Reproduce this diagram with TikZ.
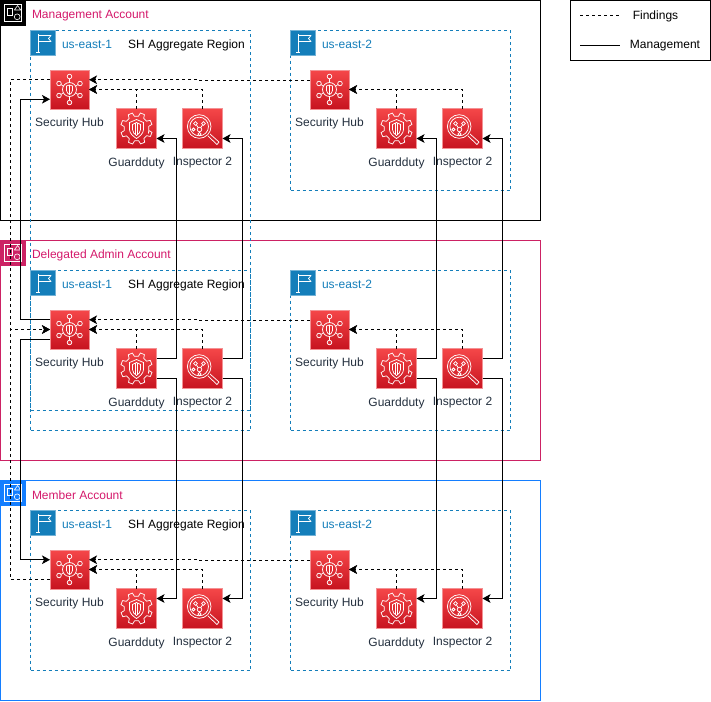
\documentclass[tikz,border=0pt]{standalone}
\usepackage{fontspec}
\setmainfont{Liberation Sans}
\usetikzlibrary{calc,arrows.meta}
\definecolor{mgmtc}{HTML}{000000}
\definecolor{delc}{HTML}{CC2264}
\definecolor{memc}{HTML}{147EFF}
\definecolor{labc}{HTML}{D4196B}
\definecolor{regc}{HTML}{147EBA}
\definecolor{txtc}{HTML}{232F3E}
\definecolor{midred}{HTML}{DE2D36}
\tikzset{
  x=0.75pt,y=-0.75pt,
  every node/.style={font=\fontsize{9}{11}\selectfont,inner sep=0pt,outer sep=0pt},
  account/.style={draw=#1,line width=0.75pt,fill=none},
  accicon/.style={fill=#1,draw=#1,minimum size=18.75pt,anchor=north west},
  acclabel/.style={text=labc,anchor=west},
  region/.style={draw=regc,line width=0.75pt,dash pattern=on 2.25pt off 2.25pt},
  regicon/.style={fill=regc,draw=regc!60!white,line width=.5pt,minimum size=18.75pt,anchor=north west},
  reglabel/.style={text=regc,anchor=west},
  plain/.style={text=black},
  redbox/.style={shade,top color={rgb,255:red,245;green,71;blue,73},bottom color={rgb,255:red,199;green,19;blue,31},draw={rgb,255:red,243;green,145;blue,148},line width=.75pt,minimum size=#1},
  svc/.style={text=txtc},
  glyph/.style={draw=white,line width=0.55pt,fill=none},
  findings/.style={draw=black,line width=0.75pt,dash pattern=on 2.25pt off 2.25pt,-{Stealth[length=6pt,width=6.5pt,inset=1.5pt]}},
  manage/.style={draw=black,line width=0.75pt,-{Stealth[length=6pt,width=6.5pt,inset=1.5pt]}},
  manageplain/.style={draw=black,line width=0.75pt},
  findingsplain/.style={draw=black,line width=0.75pt,dash pattern=on 2.25pt off 2.25pt},
  pics/shglyph/.style={code={
    \draw[glyph] (0,0) circle (7);
    \draw[glyph] (-3,-3.5) -- (0,-4.5) -- (3,-3.5) -- (3,1) .. controls (3,3) and (1,4.5) .. (0,5) .. controls (-1,4.5) and (-3,3) .. (-3,1) -- cycle;
    \draw[glyph] (0,-4.5) -- (0,5);
    \foreach \a/\b/\c/\d in {0/-13/0/-7,0/13/0/7,-10.5/-6/-6/-3.5,10.5/-6/6/-3.5,-10.5/6/-6/3.5,10.5/6/6/3.5}{
      \draw[glyph] (\c,\d) -- (\a,\b);
      \draw[glyph,fill=midred] (\a,\b) circle (2.3);
    }
  }},
  pics/gdglyph/.style={code={
    \draw[glyph,line join=round] (22:13) foreach \t in {0,45,...,315}{ -- (\t+22-13:12.5) -- (\t+22-8:16) -- (\t+22+8:16) -- (\t+22+13:12.5)} -- cycle;
    \draw[glyph] (-7,-6) -- (0,-9) -- (7,-6) -- (7,1) .. controls (7,5) and (3,8) .. (0,10) .. controls (-3,8) and (-7,5) .. (-7,1) -- cycle;
    \draw[glyph] (-4,-4) -- (0,-6) -- (4,-4) -- (4,1) .. controls (4,4) and (2,5.5) .. (0,7) .. controls (-2,5.5) and (-4,4) .. (-4,1) -- cycle;
    \draw[glyph] (-1,-5.5) -- (-1,6) (1,-5.5) -- (1,6);
  }},
  pics/inglyph/.style={code={
    \draw[glyph] (-3.3,-2) circle (11.8);
    \draw[glyph] (-3.3,-2) circle (9.3);
    \draw[glyph,line join=round] (5.5,7.5) -- (14.5,16) -- (16.5,13.5) -- (7.5,5.5);
    \draw[glyph] (-7,-5) -- (-3,1) -- (1,-5) (-3,1) -- (-3,5);
    \draw[glyph,fill=midred] (-7,-5) circle (1.9) (1,-5) circle (1.9) (-3,1) circle (2.3) (-3,5.5) circle (1.6) (-9,1) circle (1.5);
  }},
  pics/flagglyph/.style={code={
    \draw[glyph] (-5,-9) -- (-5,9);
    \draw[glyph,line join=round] (-5,-7.5) -- (8,-7.5) -- (5.5,-4.5) -- (8,-1.5) -- (-5,-1.5);
    \draw[glyph] (-7,9) -- (-3,9);
  }},
  pics/groupglyph/.style={code={
    \draw[glyph,line width=.45pt] (-8.3,-8.3) rectangle (8.3,8.3);
    \draw[glyph,line width=.45pt] (-6,-4.5) rectangle (-0.5,2.5);
    \draw[glyph,line width=.45pt,line join=round] (4.6,-7.5) -- (7.8,-3) -- (1.4,-3) -- cycle;
    \draw[glyph,line width=.45pt] (4.2,3.8) circle (2.9);
  }},
}
\begin{document}
\begin{tikzpicture}
\useasboundingbox (0,0) rectangle (711,701);
% legend
\node[draw=black,line width=.75pt,minimum width=105pt,minimum height=45pt,anchor=north west] (legend) at (570.5,0.5) {};
\node[plain] (lgf) at (655.5,16) {Findings};
\node[plain] (lgm) at (665,46) {Management};
\coordinate (lfa) at (580,15); \coordinate (lfb) at (620,15);
\coordinate (lma) at (580,45); \coordinate (lmb) at (620,45);
\draw[findingsplain] (lfa) -- (lfb);
\draw[manageplain] (lma) -- (lmb);
% accounts
\foreach \r/\o/\col/\title in {m/0/mgmtc/Management Account,d/240/delc/Delegated Admin Account,b/480/memc/Member Account}{
  \node[account=\col,minimum width=405pt,minimum height=165pt,anchor=north west] (acc\r) at (0.5,0.5+\o) {};
  \node[accicon=\col] (aic\r) at (0.5,0.5+\o) {};
  \pic at (aic\r) {groupglyph};
  \node[acclabel] (alb\r) at (32,15.5+\o) {\title};
}
% regions
\node[region,minimum width=165pt,minimum height=285pt,anchor=north west] (regm1) at (30.5,30.5) {};
\node[region,minimum width=165pt,minimum height=120pt,anchor=north west] (regd1) at (30.5,270.5) {};
\node[region,minimum width=165pt,minimum height=120pt,anchor=north west] (regb1) at (30.5,510.5) {};
\node[region,minimum width=165pt,minimum height=120pt,anchor=north west] (regm2) at (290.5,30.5) {};
\node[region,minimum width=165pt,minimum height=120pt,anchor=north west] (regd2) at (290.5,270.5) {};
\node[region,minimum width=165pt,minimum height=120pt,anchor=north west] (regb2) at (290.5,510.5) {};
\foreach \r/\o in {m/0,d/240,b/480}{
  \node[plain] (agg\r) at (186.5,45.5+\o) {SH Aggregate Region};
  \foreach \c/\cx in {1/0,2/260}{
    \node[regicon] (ric\r\c) at (30.5+\cx,30.5+\o) {};
    \pic at (ric\r\c) {flagglyph};
    \node[reglabel] (rlb\r\c) at (62+\cx,44.5+\o) {us-east-\ifnum\c=1 1\else 2\fi};
    % services
    \node[redbox=29.25pt] (sh\r\c) at (69.5+\cx,89.5+\o) {};
    \pic at (sh\r\c) {shglyph};
    \node[svc] (shl\r\c) at (69.5+\cx,123+\o) {Security Hub};
    \node[redbox=30pt] (gd\r\c) at (136.5+\cx,128.5+\o) {};
    \pic at (gd\r\c) {gdglyph};
    \node[svc] (gdl\r\c) at (136.5+\cx,163+\o) {Guardduty};
    \node[redbox=30pt] (in\r\c) at (202.5+\cx,128.5+\o) {};
    \pic at (in\r\c) {inglyph};
    \node[svc] (inl\r\c) at (202.5+\cx,163+\o) {Inspector 2};
    % connection points
    \coordinate (sh\r\c lu) at ($(sh\r\c.north west)!.25!(sh\r\c.south west)$);
    \coordinate (sh\r\c ld) at ($(sh\r\c.north west)!.75!(sh\r\c.south west)$);
    \coordinate (sh\r\c ru) at ($(sh\r\c.north east)!.25!(sh\r\c.south east)$);
    \coordinate (gd\r\c ru) at ($(gd\r\c.north east)!.25!(gd\r\c.south east)$);
    \coordinate (gd\r\c rd) at ($(gd\r\c.north east)!.75!(gd\r\c.south east)$);
    \coordinate (in\r\c ru) at ($(in\r\c.north east)!.25!(in\r\c.south east)$);
    \coordinate (in\r\c rd) at ($(in\r\c.north east)!.75!(in\r\c.south east)$);
  }
}
% findings inside regions
\foreach \r in {m,d,b}{
  \foreach \c in {1,2}{
    \draw[findings] (gd\r\c.north) |- (sh\r\c.east);
    \draw[findings] (in\r\c.north) |- (sh\r\c.east);
  }
  \draw[findings] ($(sh\r2lu)+(0,1)$) -- ++(-111,0) -- ++(0,-1) -- (sh\r1ru);
}
% trunk lines
\coordinate (ftrunk) at (10.5,0);
\coordinate (mtrunk) at (20.5,0);
\draw[findings] (shm1lu) -- (shm1lu -| ftrunk) -- (shd1.west -| ftrunk) -- (shd1.west);
\draw[findings] (shb1ld) -- (shb1ld -| ftrunk) -- (shd1.west -| ftrunk) -- (shd1.west);
\draw[manage] (shd1lu) -- (shd1lu -| mtrunk) -- (shm1ld -| mtrunk) -- (shm1ld);
\draw[manage] (shd1ld) -- (shd1ld -| mtrunk) -- (shb1lu -| mtrunk) -- (shb1lu);
% management to services
\foreach \c/\gx/\ix in {1/176.5/242.5,2/436.5/502.5}{
  \coordinate (gt\c) at (\gx,0);
  \coordinate (it\c) at (\ix,0);
  \draw[manage] (gdd\c ru) -- (gdd\c ru -| gt\c) -- (gdm\c rd -| gt\c) -- (gdm\c rd);
  \draw[manage] (gdd\c rd) -- (gdd\c rd -| gt\c) -- (gdb\c ru -| gt\c) -- (gdb\c ru);
  \draw[manage] (ind\c ru) -- (ind\c ru -| it\c) -- (inm\c rd -| it\c) -- (inm\c rd);
  \draw[manage] (ind\c rd) -- (ind\c rd -| it\c) -- (inb\c ru -| it\c) -- (inb\c ru);
}
\end{tikzpicture}
\end{document}
